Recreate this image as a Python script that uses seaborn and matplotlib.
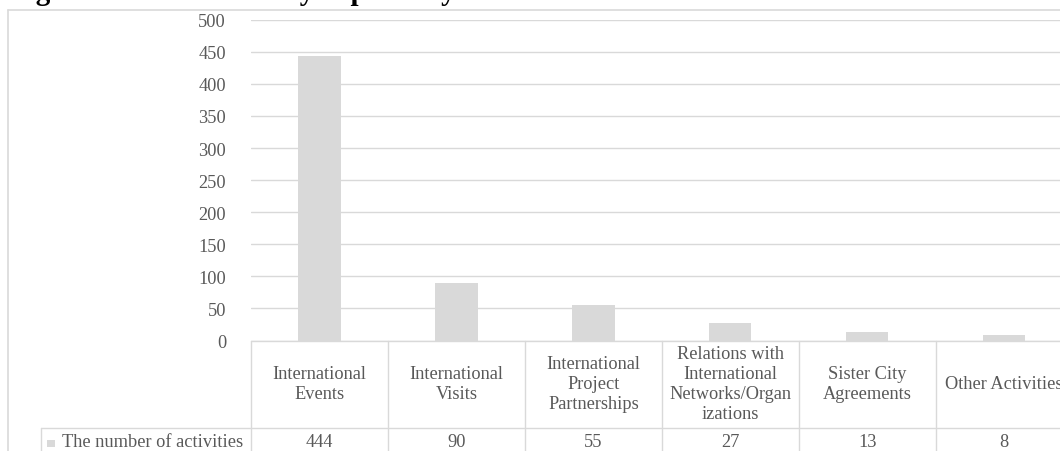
import matplotlib
matplotlib.use("Agg")
import matplotlib.pyplot as plt
from matplotlib.lines import Line2D
from matplotlib.patches import Rectangle
import matplotlib.transforms as mtransforms
import seaborn as sns
import pandas as pd

# Data
categories = [
    "International Events",
    "International Visits",
    "International Project Partnerships",
    "Relations with International Networks/Organizations",
    "Sister City Agreements",
    "Other Activities",
]
header_labels = [
    "International\nEvents",
    "International\nVisits",
    "International\nProject\nPartnerships",
    "Relations with\nInternational\nNetworks/Organ\nizations",
    "Sister City\nAgreements",
    "Other Activities",
]
activities = [444, 90, 55, 27, 13, 8]
series_name = "The number of activities"
y_ticks = [0, 50, 100, 150, 200, 250, 300, 350, 400, 450, 500]
title = "Figure 3: Istanbul's City Diplomacy Activities between 2004 and 2019"

df = pd.DataFrame({"category": categories, "count": activities})

W, H = 1060, 452
BAR = "#d9d9d9"
LINE = "#d9d9d9"
TXT = "#595959"
FONT = "Liberation Serif"
FS = 13.2

sns.set_theme(style="white")
plt.rcParams["font.family"] = [FONT, "DejaVu Serif"]

fig = plt.figure(figsize=(W / 100, H / 100), dpi=100)

def fx(px):
    return px / W

def fy(py):
    return 1 - py / H

# plot area: categories -0.5..5.5 span 251..1072.6 px, values 0..500 span 341.5..20.7 px
ax_left, ax_right = 251, 1072.6
ax_top, ax_bottom = 20.7, 341.5
ax = fig.add_axes([fx(ax_left), fy(ax_bottom), fx(ax_right - ax_left), (ax_bottom - ax_top) / H])

sns.barplot(data=df, x="category", y="count", color=BAR, width=0.31, ax=ax,
            saturation=1, edgecolor="none", zorder=3)
ax.set_xlim(-0.5, 5.5)
ax.set_ylim(0, 500)
ax.set_yticks(y_ticks)
ax.set_yticklabels([str(t) for t in y_ticks], fontsize=FS, color=TXT)
ax.tick_params(axis="y", length=0, pad=18)
ax.set_xticks([])
ax.set_xlabel("")
ax.set_ylabel("")
for s in ax.spines.values():
    s.set_visible(False)
ax.yaxis.grid(True, color=LINE, linewidth=1.0, zorder=0)
ax.set_axisbelow(True)

# outer chart frame
fig.add_artist(Line2D([fx(8), fx(8)], [fy(11), fy(H + 5)], color=LINE, lw=1.2))
fig.add_artist(Line2D([fx(8), fx(W + 5)], [fy(11), fy(11)], color=LINE, lw=1.2))

# data table below the plot area
tr = mtransforms.blended_transform_factory(ax.transData, fig.transFigure)
row1_top, row1_bot, row2_bot = 341.5, 428.7, H + 10
n = len(categories)
for i in range(n + 1):
    xb = i - 0.5
    ax.add_line(Line2D([xb, xb], [fy(row1_top), fy(row2_bot)], transform=tr,
                       color=LINE, lw=1.0, clip_on=False))
ax.add_line(Line2D([-0.5, n - 0.5], [fy(row1_top), fy(row1_top)], transform=tr,
                   color=LINE, lw=1.0, clip_on=False))
fig.add_artist(Line2D([fx(41), fx(W + 5)], [fy(row1_bot), fy(row1_bot)], color=LINE, lw=1.0))
fig.add_artist(Line2D([fx(41), fx(41)], [fy(row1_bot), fy(row2_bot)], color=LINE, lw=1.0))

for i, (lab, val) in enumerate(zip(header_labels, activities)):
    ax.text(i, fy((row1_top + row1_bot) / 2 - 0.5), lab, transform=tr, ha="center", va="center",
            fontsize=FS, color=TXT, linespacing=1.25, clip_on=False)
    ax.text(i, fy(443), str(val), transform=tr, ha="center", va="center",
            fontsize=FS, color=TXT, clip_on=False)

# legend key and series name in the table row
fig.add_artist(Rectangle((fx(47), fy(448)), fx(8), 7 / H, facecolor=BAR, edgecolor="none"))
fig.text(fx(62), fy(443), series_name, ha="left", va="center", fontsize=FS, color=TXT)

# title, mostly above the top edge
fig.text(fx(10), fy(0.5), title, ha="left", va="baseline", fontsize=21,
         fontweight="bold", color="black")

fig.savefig("out.png", dpi=100)
